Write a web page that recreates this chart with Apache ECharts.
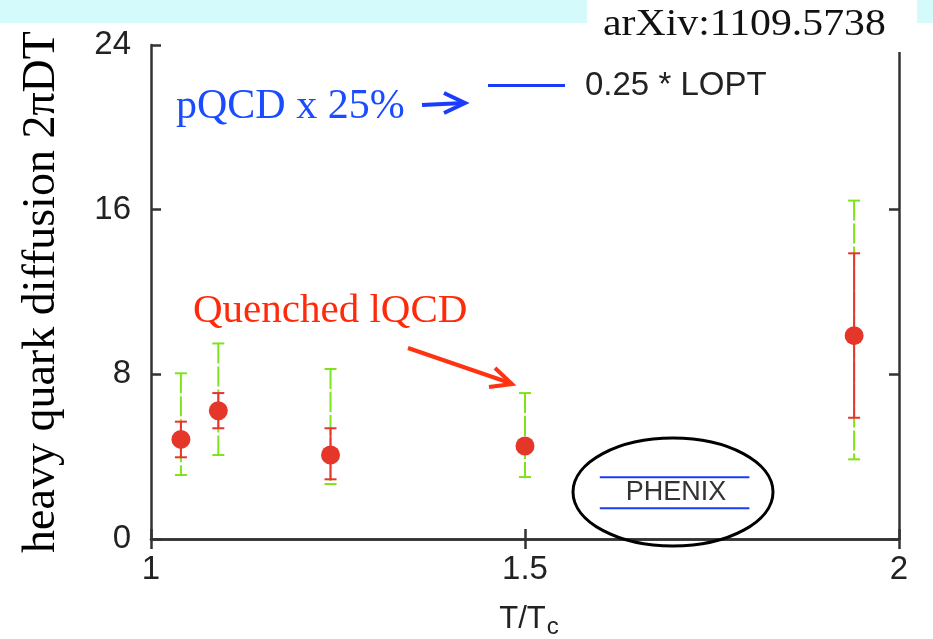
<!DOCTYPE html>
<html>
<head>
<meta charset="utf-8">
<script src="https://cdn.jsdelivr.net/npm/echarts@6/dist/echarts.min.js"></script>
<style>
  html, body { margin: 0; padding: 0; background: #fff; }
  #chart { width: 933px; height: 639px; }
</style>
</head>
<body>
<div id="chart"></div>
<script>
// Heavy quark diffusion coefficient 2πDT vs T/Tc (quenched lattice QCD)
const temps      = [1.04, 1.09, 1.24, 1.50, 1.94];
const diffusion  = [4.84, 6.23, 4.08, 4.52, 9.88];
// statistical error range (red)
const statLow    = [3.97, 5.38, 2.90, null, 5.89];
const statHigh   = [5.70, 7.09, 5.38, null, 13.88];
// total error range (green)
const totalLow   = [3.11, 4.08, 2.67, 3.01, 3.87];
const totalHigh  = [8.05, 9.50, 8.26, 7.09, 16.44];
// PHENIX band
const phenixT    = [1.6, 1.8];
const phenixLow  = 1.5;
const phenixHigh = 3.0;

const xTicks = [1, 1.5, 2];
const yTicks = [0, 8, 16, 24];

const RED = '#e5362a';
const GREEN = '#7fe31c';
const BLUE = '#1a3cf5';
const SERIF = '"Liberation Serif", "Times New Roman", serif';
const SANS = '"Liberation Sans", Arial, Helvetica, sans-serif';

function rangeData(lo, hi) {
  const out = [];
  temps.forEach((t, i) => {
    if (lo[i] != null && hi[i] != null) out.push([t, lo[i], hi[i]]);
  });
  return out;
}

function errorBars(color, dashed) {
  return function (params, api) {
    const x = api.value(0);
    const top = api.coord([x, api.value(2)]);
    const bot = api.coord([x, api.value(1)]);
    const w = 6;
    const style = { stroke: color, lineWidth: 2 };
    return {
      type: 'group',
      children: [
        { type: 'line', shape: { x1: top[0], y1: top[1], x2: bot[0], y2: bot[1] },
          style: Object.assign({}, style, dashed ? { lineDash: [20, 3] } : {}) },
        { type: 'line', shape: { x1: top[0] - w, y1: top[1], x2: top[0] + w, y2: top[1] }, style: style },
        { type: 'line', shape: { x1: bot[0] - w, y1: bot[1], x2: bot[0] + w, y2: bot[1] }, style: style }
      ]
    };
  };
}

const chart = echarts.init(document.getElementById('chart'), null, { renderer: 'canvas' });

const frameLine = { show: true, lineStyle: { color: '#333', width: 2.5 } };
const frameTick = { show: true, inside: true, length: 10, lineStyle: { color: '#333', width: 2.5 } };

chart.setOption({
  animation: false,
  backgroundColor: '#fff',
  grid: { left: 151, right: 34, top: 45, bottom: 100, outerBoundsMode: 'none', containLabel: false },
  legend: {
    data: [{ name: '0.25 * LOPT', icon: 'rect' }],
    left: 488, top: 69, padding: 0,
    itemWidth: 77, itemHeight: 3,
    selectedMode: false,
    textStyle: { fontFamily: SANS, fontSize: 33, color: '#222', padding: [0, 0, 0, 15] }
  },
  xAxis: [{
    type: 'value', min: xTicks[0], max: xTicks[xTicks.length - 1], interval: 0.5,
    axisLine: frameLine, axisTick: frameTick, splitLine: { show: false },
    axisLabel: { fontFamily: SANS, fontSize: 33, color: '#222', margin: 14 },
    name: 'T/T{sub|c}', nameLocation: 'middle', nameGap: 60,
    nameTextStyle: {
      fontFamily: SANS, fontSize: 31, color: '#222', padding: [0, 0, 0, 8],
      rich: { sub: { fontFamily: SANS, fontSize: 24, color: '#222', verticalAlign: 'bottom', padding: [16, 0, 0, 1] } }
    }
  }, {
    type: 'value', position: 'top', min: xTicks[0], max: xTicks[xTicks.length - 1], interval: 0.5,
    axisLine: frameLine, axisTick: frameTick, axisLabel: { show: false }, splitLine: { show: false }
  }],
  yAxis: [{
    type: 'value', min: yTicks[0], max: yTicks[yTicks.length - 1], interval: 8,
    axisLine: frameLine, axisTick: frameTick, splitLine: { show: false },
    axisLabel: { fontFamily: SANS, fontSize: 33, color: '#222', margin: 20 },
    name: 'heavy quark diffusion 2πDT', nameLocation: 'middle', nameGap: 86, nameRotate: 90,
    nameTextStyle: { fontFamily: SERIF, fontSize: 46, color: '#000' }
  }, {
    type: 'value', position: 'right', min: yTicks[0], max: yTicks[yTicks.length - 1], interval: 8,
    axisLine: frameLine, axisTick: frameTick, axisLabel: { show: false }, splitLine: { show: false }
  }],
  series: [
    { name: '0.25 * LOPT', type: 'line', data: [], color: BLUE, lineStyle: { color: BLUE, width: 3 }, symbol: 'none' },
    { name: 'total error', type: 'custom', z: 2, renderItem: errorBars(GREEN, true),
      data: rangeData(totalLow, totalHigh), encode: { x: 0, y: [1, 2] } },
    { name: 'stat error', type: 'custom', z: 3, renderItem: errorBars(RED, false),
      data: rangeData(statLow, statHigh), encode: { x: 0, y: [1, 2] } },
    { name: 'lattice', type: 'scatter', z: 4, symbol: 'circle', symbolSize: 19,
      itemStyle: { color: RED, opacity: 1 }, data: temps.map((t, i) => [t, diffusion[i]]) },
    { name: 'PHENIX high', type: 'line', z: 3, symbol: 'none', lineStyle: { color: BLUE, width: 2 },
      data: phenixT.map(t => [t, phenixHigh]) },
    { name: 'PHENIX low', type: 'line', z: 3, symbol: 'none', lineStyle: { color: BLUE, width: 2 },
      data: phenixT.map(t => [t, phenixLow]) }
  ],
  graphic: [
    // light cyan band along the top
    { type: 'rect', z: -10, silent: true, shape: { x: 0, y: 0, width: 933, height: 23 }, style: { fill: '#d4fafc' } },
    // reference tag box
    { type: 'rect', z: 100, silent: true, shape: { x: 587, y: 0, width: 330, height: 52 }, style: { fill: '#fff' } },
    { type: 'text', z: 101, x: 603, y: 25, scaleX: 1.1, silent: true,
      style: { text: 'arXiv:1109.5738', fontFamily: SERIF, fontSize: 38, fill: '#111', verticalAlign: 'middle' } },
    // pQCD annotation
    { type: 'text', z: 50, x: 176, y: 107, silent: true,
      style: { text: 'pQCD x 25%', fontFamily: SERIF, fontSize: 42, fill: '#1a4cff', verticalAlign: 'middle' } },
    { type: 'polyline', z: 50, silent: true, shape: { points: [[422, 105], [464, 103]] },
      style: { stroke: '#1a3cff', lineWidth: 4, fill: null } },
    { type: 'polyline', z: 50, silent: true, shape: { points: [[444, 93], [465, 103], [444, 113]] },
      style: { stroke: '#1a3cff', lineWidth: 4, fill: null, lineJoin: 'miter' } },
    // quenched lattice annotation
    { type: 'text', z: 50, x: 193, y: 311, silent: true,
      style: { text: 'Quenched lQCD', fontFamily: SERIF, fontSize: 41, fill: '#ff2a0a', verticalAlign: 'middle' } },
    { type: 'polyline', z: 50, silent: true, shape: { points: [[408, 348], [510, 383]] },
      style: { stroke: '#ff3311', lineWidth: 4, fill: null } },
    { type: 'polyline', z: 50, silent: true, shape: { points: [[495, 368], [512, 384], [489, 387]] },
      style: { stroke: '#ff3311', lineWidth: 4, fill: null, lineJoin: 'miter' } },
    // PHENIX label and ellipse
    { type: 'text', z: 50, x: 676, y: 493, silent: true,
      style: { text: 'PHENIX', fontFamily: SANS, fontSize: 27, fill: '#333', align: 'center', verticalAlign: 'middle' } },
    { type: 'ellipse', z: 50, silent: true, shape: { cx: 673, cy: 492, rx: 100, ry: 54 },
      style: { stroke: '#000', lineWidth: 3, fill: null } }
  ]
});
</script>
</body>
</html>
